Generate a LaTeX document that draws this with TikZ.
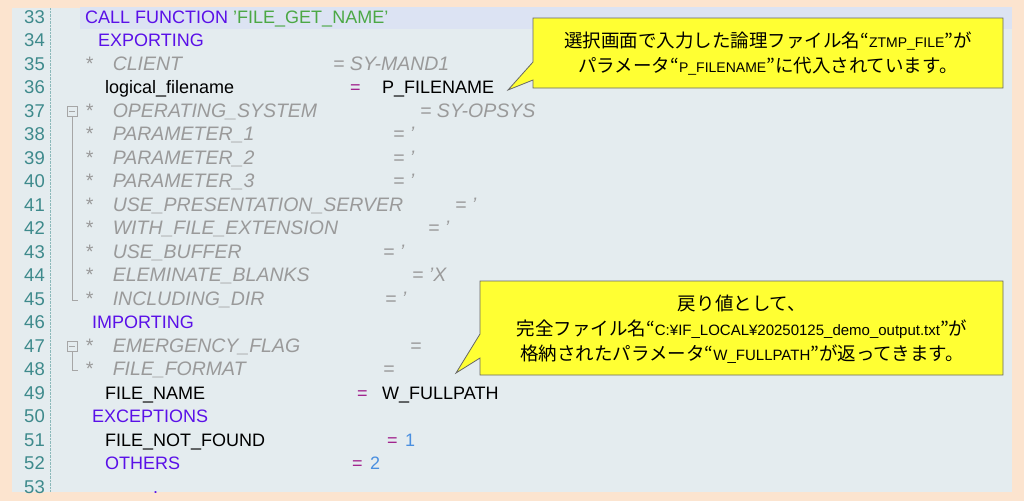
\documentclass[tikz,border=0pt]{standalone}
\usepackage{fontspec}
\setmainfont{Liberation Sans}
\newfontfamily\cjk{Noto Sans CJK JP}
\newfontfamily\lat{Liberation Sans}
\definecolor{bgout}{HTML}{FCE4CF}
\definecolor{panel}{HTML}{E4ECEF}
\definecolor{hl}{HTML}{DCE3F3}
\definecolor{kw}{HTML}{5A10E8}
\definecolor{str}{HTML}{4CA845}
\definecolor{cmt}{HTML}{9A9A9A}
\definecolor{lnum}{HTML}{3E8A8C}
\definecolor{eqc}{HTML}{A0208C}
\definecolor{numc}{HTML}{4A8FE0}
\definecolor{callout}{HTML}{FFFF33}
\def\Y#1{23+23.5*(#1-33)}
\def\S{*\hspace{20pt}}
\begin{document}
\begin{tikzpicture}[x=1pt,y=-1pt,
  t/.style={anchor=base west,inner sep=0,font=\fontsize{18}{18}\selectfont},
  ln/.style={anchor=base east,inner sep=0,text=lnum,font=\fontsize{18.5}{18}\selectfont},
  c/.style={t,text=cmt,font=\fontsize{19.5}{18}\selectfont\itshape},
  k/.style={t,text=kw},
  e/.style={t,text=eqc},
  bub/.style={fill=callout,draw=gray!80!black,line width=0.8pt},
  bt/.style={align=center,inner sep=0,font=\cjk\fontsize{18.5}{25}\selectfont}]
\useasboundingbox (0,0) rectangle (1024,501);
\fill[bgout] (0,0) rectangle (1024,501);
\fill[panel] (12,8) rectangle (1012,492);
\fill[hl] (80,7) rectangle (1012,29);
\draw[lnum!60,densely dotted] (50,8) -- (50,492);
\foreach \n [count=\i from 0] in {33,...,53}{
  \node[ln] (n\n) at (45,{23+23.5*\i}) {\n};
}
\node[k] (l33a) at (85,{\Y{33}}) {CALL FUNCTION {\color{str}'FILE\_GET\_NAME'}};
\node[k] (l34) at (98,{\Y{34}}) {EXPORTING};
\node[c] (l35a) at (85,{\Y{35}}) {\S CLIENT};
\node[c] (l35b) at (333,{\Y{35}}) {= SY-MAND1};
\node[t] (l36a) at (105,{\Y{36}}) {logical\_filename};
\node[e] (l36b) at (350,{\Y{36}}) {=};
\node[t] (l36c) at (382,{\Y{36}}) {P\_FILENAME};
\node[c] (l37a) at (85,{\Y{37}}) {\S OPERATING\_SYSTEM};
\node[c] (l37b) at (420,{\Y{37}}) {= SY-OPSYS};
\node[c] (l38a) at (85,{\Y{38}}) {\S PARAMETER\_1};
\node[c] (l38b) at (393,{\Y{38}}) {= '};
\node[c] (l39a) at (85,{\Y{39}}) {\S PARAMETER\_2};
\node[c] (l39b) at (393,{\Y{39}}) {= '};
\node[c] (l40a) at (85,{\Y{40}}) {\S PARAMETER\_3};
\node[c] (l40b) at (393,{\Y{40}}) {= '};
\node[c] (l41a) at (85,{\Y{41}}) {\S USE\_PRESENTATION\_SERVER};
\node[c] (l41b) at (455,{\Y{41}}) {= '};
\node[c] (l42a) at (85,{\Y{42}}) {\S WITH\_FILE\_EXTENSION};
\node[c] (l42b) at (428,{\Y{42}}) {= '};
\node[c] (l43a) at (85,{\Y{43}}) {\S USE\_BUFFER};
\node[c] (l43b) at (383,{\Y{43}}) {= '};
\node[c] (l44a) at (85,{\Y{44}}) {\S ELEMINATE\_BLANKS};
\node[c] (l44b) at (412,{\Y{44}}) {= 'X};
\node[c] (l45a) at (85,{\Y{45}}) {\S INCLUDING\_DIR};
\node[c] (l45b) at (385,{\Y{45}}) {= '};
\node[k] (l46) at (92,{\Y{46}}) {IMPORTING};
\node[c] (l47a) at (85,{\Y{47}}) {\S EMERGENCY\_FLAG};
\node[c] (l47b) at (410,{\Y{47}}) {=};
\node[c] (l48a) at (85,{\Y{48}}) {\S FILE\_FORMAT};
\node[c] (l48b) at (383,{\Y{48}}) {=};
\node[t] (l49a) at (105,{\Y{49}}) {FILE\_NAME};
\node[e] (l49b) at (357,{\Y{49}}) {=};
\node[t] (l49c) at (382,{\Y{49}}) {W\_FULLPATH};
\node[k] (l50) at (92,{\Y{50}}) {EXCEPTIONS};
\node[t] (l51a) at (105,{\Y{51}}) {FILE\_NOT\_FOUND};
\node[e] (l51b) at (387,{\Y{51}}) {=};
\node[t,text=numc] (l51c) at (405,{\Y{51}}) {1};
\node[k] (l52a) at (105,{\Y{52}}) {OTHERS};
\node[e] (l52b) at (352,{\Y{52}}) {=};
\node[t,text=numc] (l52c) at (370,{\Y{52}}) {2};
\node[t,text=kw] (l53) at (153,{\Y{53}}) {.};
\foreach \a/\b in {37/45,47/48}{
  \draw[gray!70,line width=0.6pt] (67,{\Y{\a}-11}) rectangle (77,{\Y{\a}-1});
  \draw[gray!70,line width=0.6pt] (69,{\Y{\a}-6}) -- (75,{\Y{\a}-6});
  \draw[gray!70,line width=0.6pt] (72,{\Y{\a}-1}) -- (72,{\Y{\b}-5}) -- (78,{\Y{\b}-5});
}
\coordinate (tip1) at (508,90);
\draw[bub] (533,18) -- (1003,18) -- (1003,88) -- (533,88) -- (533,80) -- (tip1) -- (533,62) -- cycle;
\node[bt] (b1) at (768,54) {選択画面で入力した論理ファイル名“{\lat\fontsize{14}{14}\selectfont ZTMP\_FILE}”が\\パラメータ“{\lat\fontsize{14}{14}\selectfont P\_FILENAME}”に代入されています。};
\coordinate (tip2) at (456,373);
\draw[bub] (480,281) -- (1003,281) -- (1003,375) -- (480,375) -- (480,358) -- (tip2) -- (480,334) -- cycle;
\node[bt] (b2) at (742,329) {戻り値として、\\完全ファイル名“{\lat\fontsize{15}{15}\selectfont C:¥IF\_LOCAL¥20250125\_demo\_output.txt}”が\\格納されたパラメータ“{\lat\fontsize{15}{15}\selectfont W\_FULLPATH}”が返ってきます。};
\end{tikzpicture}
\end{document}
